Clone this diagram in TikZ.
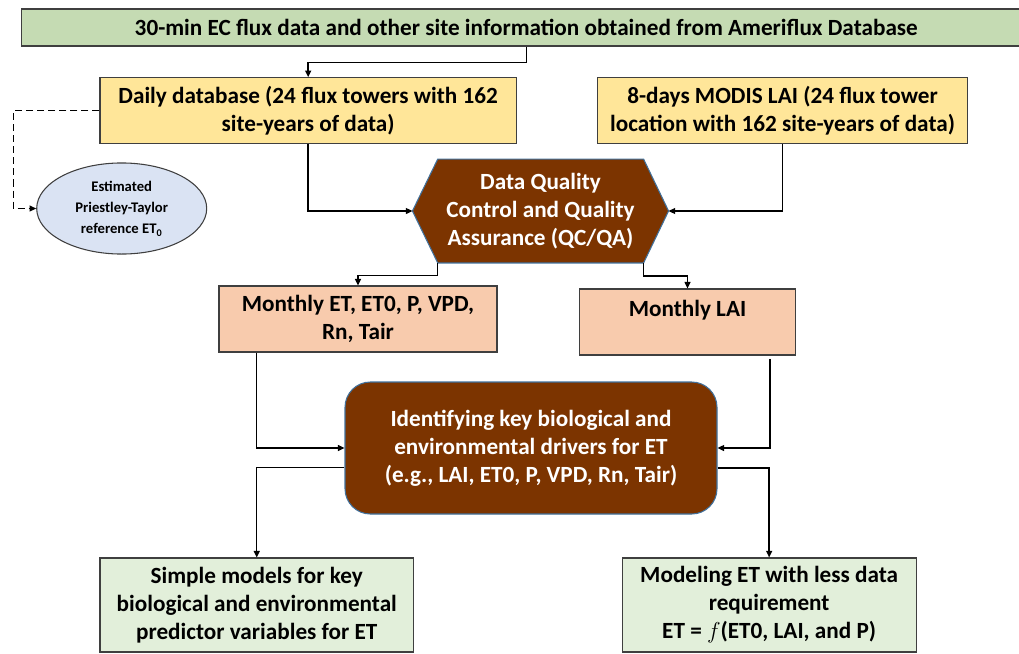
\documentclass[tikz,border=0pt]{standalone}
\usepackage{fontspec}
\setmainfont{Carlito}
\usetikzlibrary{arrows.meta,calc,shapes.geometric,backgrounds}

\definecolor{srcgreen}{HTML}{C5DBB3}
\definecolor{inyellow}{HTML}{FFE699}
\definecolor{peach}{HTML}{F8CBAD}
\definecolor{outgreen}{HTML}{E2EFDA}
\definecolor{etblue}{HTML}{DAE3F3}
\definecolor{rust}{HTML}{7C3400}
\definecolor{rustline}{HTML}{41719C}
\definecolor{boxline}{HTML}{3F3F3F}

\begin{document}
\begin{tikzpicture}[x=0.75pt,y=-0.75pt,
  font=\bfseries\fontsize{17.4}{21}\selectfont,
  box/.style={draw=boxline, line width=0.8pt, inner sep=0pt, align=center},
  dark/.style={draw=rustline, line width=0.8pt, fill=rust, text=white, inner sep=0pt, align=center},
  conn/.style={line width=1.1pt, draw=black, -{Triangle[length=5pt,width=4.5pt]}},
  dashconn/.style={conn, dash pattern=on 5.3pt off 3pt},
]
\useasboundingbox (0,0) rectangle (1019,653);
\clip (0,0) rectangle (1019,653);

% input boxes
\node[box, fill=srcgreen, minimum width=757.1pt, minimum height=27.75pt] (src) at (526.25,27.5)
  {30-min EC flux data and other site information obtained from Ameriflux Database};
\node[box, fill=inyellow, minimum width=312.2pt, minimum height=49.2pt] (daily) at (308.15,110.5)
  {Daily database (24 flux towers with 162\\site-years of data)};
\node[box, fill=inyellow, minimum width=277.2pt, minimum height=49.2pt] (modis) at (782.5,110.5)
  {8-days MODIS LAI (24 flux tower\\location with 162 site-years of data)};

% reference ET estimate
\node[draw=boxline, line width=0.8pt, fill=etblue, ellipse, inner sep=0pt,
      minimum width=127.5pt, minimum height=68.3pt, align=center,
      font=\bfseries\fontsize{11}{16}\selectfont] (pt) at (121.7,208.5)
  {Estimated\\Priestley-Taylor\\reference ET\textsubscript{0}};

% QC/QA step (hexagon drawn behind its text node)
\node[text=white, inner sep=0pt, align=center, minimum width=191.7pt, minimum height=77.55pt] (qc) at (540.5,211)
  {Data Quality\\Control and Quality\\Assurance (QC/QA)};
\begin{scope}[on background layer]
  \draw[draw=rustline, line width=0.8pt, fill=rust]
    (qc.west) -- ($(qc.north west)+(25.3,0)$) -- ($(qc.north east)+(-25,0)$)
    -- (qc.east) -- ($(qc.south east)+(-25,0)$) -- ($(qc.south west)+(25.3,0)$) -- cycle;
\end{scope}

% monthly aggregates
\node[box, fill=peach, minimum width=208.5pt, minimum height=49.5pt] (et) at (358,319)
  {Monthly ET, ET0, P, VPD,\\Rn, Tair};
\node[box, fill=peach, minimum width=162.3pt, minimum height=49.5pt] (lai) at (687.5,322)
  {Monthly LAI\\~};

% driver analysis
\node[dark, rounded corners=19pt, minimum width=279pt, minimum height=99pt] (ident) at (531,448)
  {Identifying key biological and\\environmental drivers for ET\\(e.g., LAI, ET0, P, VPD, Rn, Tair)};

% outcomes
\node[box, fill=outgreen, minimum width=235.1pt, minimum height=70.5pt] (simple) at (256.75,605)
  {Simple models for key\\biological and environmental\\predictor variables for ET};
\node[box, fill=outgreen, minimum width=220.3pt, minimum height=70.5pt] (model) at (769.15,605)
  {Modeling ET with less data\\requirement\\ET = $f$(ET0, LAI, and P)};

% connectors
\draw[conn] (src.south) -- ++(0,15.7) -| (daily.north);
\draw[dashconn] (daily.west) -- ++(-86,0) |- (pt.west);
\draw[conn] (daily.south) |- (qc.west);
\draw[conn] (modis.south) |- (qc.east);
\draw[conn] ($(qc.south west)+(25.3,0)$) -- ++(0,12.5) -| (et.north);
\draw[conn] ($(qc.south east)+(-25,0)$) -- ++(0,13) -| (lai.north);
\draw[conn] ($(et.south west)+(38,0)$) |- (ident.west);
\draw[conn] ($(lai.south east)+(-26.4,3.3)$) |- (ident.east);
\draw[conn] ($(ident.west)+(0,19.7)$) -| (simple.north);
\draw[conn] ($(ident.east)+(0,20)$) -| (model.north);
\end{tikzpicture}
\end{document}
